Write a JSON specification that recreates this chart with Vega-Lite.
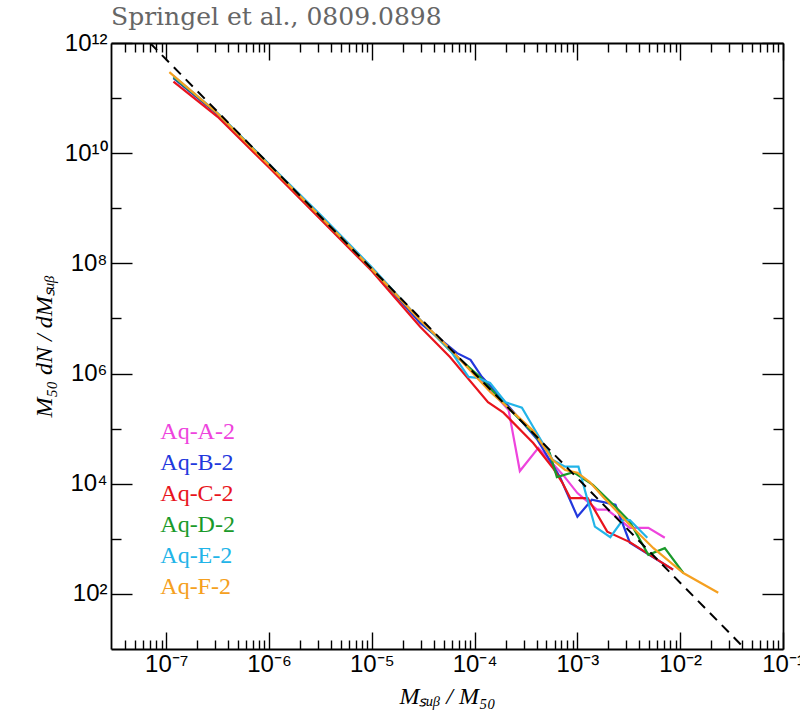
{
  "$schema": "https://vega.github.io/schema/vega-lite/v6.json",
  "width": 672,
  "height": 606,
  "autosize": {"type": "none"},
  "padding": {"left": 111, "top": 43, "right": 17, "bottom": 66},
  "background": "white",
  "title": {"text": "Springel et al., 0809.0898", "anchor": "start", "frame": "group", "font": "DejaVu Serif", "fontSize": 25, "fontWeight": "normal", "color": "#666666", "baseline": "alphabetic", "offset": -19},
  "config": {"view": {"stroke": null}},
  "datasets": {
    "subhalos": [
      {"run": "Aq-A-2", "x": 1.175e-7, "y": 2.344e11}, {"run": "Aq-A-2", "x": 3.162e-7, "y": 5.012e10}, {"run": "Aq-A-2", "x": 1e-6, "y": 6.310e9}, {"run": "Aq-A-2", "x": 3.162e-6, "y": 7.079e8}, {"run": "Aq-A-2", "x": 1e-5, "y": 7.943e7}, {"run": "Aq-A-2", "x": 2.951e-5, "y": 9.333e6}, {"run": "Aq-A-2", "x": 5.754e-5, "y": 2.692e6}, {"run": "Aq-A-2", "x": 1.122e-4, "y": 8.318e5}, {"run": "Aq-A-2", "x": 2.138e-4, "y": 2.188e5}, {"run": "Aq-A-2", "x": 2.754e-4, "y": 1.698e4}, {"run": "Aq-A-2", "x": 4.169e-4, "y": 4.467e4}, {"run": "Aq-A-2", "x": 7.244e-4, "y": 1.445e4}, {"run": "Aq-A-2", "x": 1e-3, "y": 6.761e3}, {"run": "Aq-A-2", "x": 1.549e-3, "y": 3.388e3}, {"run": "Aq-A-2", "x": 1.950e-3, "y": 3.388e3}, {"run": "Aq-A-2", "x": 3.236e-3, "y": 1.585e3}, {"run": "Aq-A-2", "x": 4.898e-3, "y": 1.585e3}, {"run": "Aq-A-2", "x": 7.079e-3, "y": 1.047e3},
      {"run": "Aq-B-2", "x": 1.175e-7, "y": 2.291e11}, {"run": "Aq-B-2", "x": 3.162e-7, "y": 5.129e10}, {"run": "Aq-B-2", "x": 1e-6, "y": 6.310e9}, {"run": "Aq-B-2", "x": 3.162e-6, "y": 7.079e8}, {"run": "Aq-B-2", "x": 1e-5, "y": 7.943e7}, {"run": "Aq-B-2", "x": 2.951e-5, "y": 8.318e6}, {"run": "Aq-B-2", "x": 6.761e-5, "y": 2.344e6}, {"run": "Aq-B-2", "x": 9.120e-5, "y": 1.778e6}, {"run": "Aq-B-2", "x": 1.175e-4, "y": 8.710e5}, {"run": "Aq-B-2", "x": 1.778e-4, "y": 3.802e5}, {"run": "Aq-B-2", "x": 4.074e-4, "y": 6.310e4}, {"run": "Aq-B-2", "x": 6.761e-4, "y": 1.318e4}, {"run": "Aq-B-2", "x": 1e-3, "y": 2.512e3}, {"run": "Aq-B-2", "x": 1.380e-3, "y": 5.129e3}, {"run": "Aq-B-2", "x": 1.738e-3, "y": 4.677e3}, {"run": "Aq-B-2", "x": 2.344e-3, "y": 4.169e3}, {"run": "Aq-B-2", "x": 3.236e-3, "y": 8.511e2}, {"run": "Aq-B-2", "x": 8.511e-3, "y": 2.754e2},
      {"run": "Aq-C-2", "x": 1.175e-7, "y": 1.995e11}, {"run": "Aq-C-2", "x": 3.162e-7, "y": 4.571e10}, {"run": "Aq-C-2", "x": 1e-6, "y": 5.495e9}, {"run": "Aq-C-2", "x": 3.162e-6, "y": 6.310e8}, {"run": "Aq-C-2", "x": 1e-5, "y": 7.244e7}, {"run": "Aq-C-2", "x": 2.951e-5, "y": 7.079e6}, {"run": "Aq-C-2", "x": 5.754e-5, "y": 1.995e6}, {"run": "Aq-C-2", "x": 1.349e-4, "y": 3.020e5}, {"run": "Aq-C-2", "x": 1.905e-4, "y": 1.950e5}, {"run": "Aq-C-2", "x": 3.715e-4, "y": 5.495e4}, {"run": "Aq-C-2", "x": 5.754e-4, "y": 1.950e4}, {"run": "Aq-C-2", "x": 7.079e-4, "y": 1.072e4}, {"run": "Aq-C-2", "x": 8.511e-4, "y": 5.495e3}, {"run": "Aq-C-2", "x": 1.259e-3, "y": 5.495e3}, {"run": "Aq-C-2", "x": 1.950e-3, "y": 1.349e3}, {"run": "Aq-C-2", "x": 3.236e-3, "y": 8.710e2}, {"run": "Aq-C-2", "x": 6.761e-3, "y": 3.631e2}, {"run": "Aq-C-2", "x": 8.511e-3, "y": 2.754e2},
      {"run": "Aq-D-2", "x": 1.175e-7, "y": 2.399e11}, {"run": "Aq-D-2", "x": 3.162e-7, "y": 5.248e10}, {"run": "Aq-D-2", "x": 1e-6, "y": 6.310e9}, {"run": "Aq-D-2", "x": 3.162e-6, "y": 7.079e8}, {"run": "Aq-D-2", "x": 1e-5, "y": 7.943e7}, {"run": "Aq-D-2", "x": 2.951e-5, "y": 9.333e6}, {"run": "Aq-D-2", "x": 5.754e-5, "y": 2.630e6}, {"run": "Aq-D-2", "x": 1.122e-4, "y": 8.710e5}, {"run": "Aq-D-2", "x": 2.089e-4, "y": 2.455e5}, {"run": "Aq-D-2", "x": 3.467e-4, "y": 9.550e4}, {"run": "Aq-D-2", "x": 5.370e-4, "y": 3.631e4}, {"run": "Aq-D-2", "x": 6.310e-4, "y": 1.318e4}, {"run": "Aq-D-2", "x": 9.120e-4, "y": 1.622e4}, {"run": "Aq-D-2", "x": 1.413e-3, "y": 9.550e3}, {"run": "Aq-D-2", "x": 2.239e-3, "y": 4.169e3}, {"run": "Aq-D-2", "x": 3.236e-3, "y": 2.042e3}, {"run": "Aq-D-2", "x": 4.898e-3, "y": 5.129e2}, {"run": "Aq-D-2", "x": 7.079e-3, "y": 6.761e2}, {"run": "Aq-D-2", "x": 1.072e-2, "y": 2.399e2},
      {"run": "Aq-E-2", "x": 1.175e-7, "y": 2.512e11}, {"run": "Aq-E-2", "x": 3.162e-7, "y": 5.370e10}, {"run": "Aq-E-2", "x": 1e-6, "y": 6.310e9}, {"run": "Aq-E-2", "x": 3.162e-6, "y": 7.586e8}, {"run": "Aq-E-2", "x": 1e-5, "y": 8.511e7}, {"run": "Aq-E-2", "x": 2.951e-5, "y": 9.333e6}, {"run": "Aq-E-2", "x": 5.754e-5, "y": 2.692e6}, {"run": "Aq-E-2", "x": 8.710e-5, "y": 8.710e5}, {"run": "Aq-E-2", "x": 1.072e-4, "y": 8.318e5}, {"run": "Aq-E-2", "x": 1.413e-4, "y": 6.761e5}, {"run": "Aq-E-2", "x": 1.995e-4, "y": 3.020e5}, {"run": "Aq-E-2", "x": 2.884e-4, "y": 2.399e5}, {"run": "Aq-E-2", "x": 3.715e-4, "y": 1.072e5}, {"run": "Aq-E-2", "x": 5.754e-4, "y": 2.692e4}, {"run": "Aq-E-2", "x": 7.586e-4, "y": 2.042e4}, {"run": "Aq-E-2", "x": 1.023e-3, "y": 2.042e4}, {"run": "Aq-E-2", "x": 1.479e-3, "y": 1.660e3}, {"run": "Aq-E-2", "x": 2.089e-3, "y": 1.072e3}, {"run": "Aq-E-2", "x": 2.754e-3, "y": 2.188e3}, {"run": "Aq-E-2", "x": 3.236e-3, "y": 2.188e3}, {"run": "Aq-E-2", "x": 4.786e-3, "y": 1.047e3},
      {"run": "Aq-F-2", "x": 1.072e-7, "y": 2.951e11}, {"run": "Aq-F-2", "x": 3.162e-7, "y": 5.248e10}, {"run": "Aq-F-2", "x": 1e-6, "y": 6.026e9}, {"run": "Aq-F-2", "x": 3.162e-6, "y": 7.079e8}, {"run": "Aq-F-2", "x": 1e-5, "y": 7.943e7}, {"run": "Aq-F-2", "x": 2.951e-5, "y": 9.333e6}, {"run": "Aq-F-2", "x": 5.754e-5, "y": 2.818e6}, {"run": "Aq-F-2", "x": 1.413e-4, "y": 4.677e5}, {"run": "Aq-F-2", "x": 2.089e-4, "y": 2.455e5}, {"run": "Aq-F-2", "x": 3.715e-4, "y": 9.120e4}, {"run": "Aq-F-2", "x": 5.754e-4, "y": 2.692e4}, {"run": "Aq-F-2", "x": 7.586e-4, "y": 1.778e4}, {"run": "Aq-F-2", "x": 1e-3, "y": 1.585e4}, {"run": "Aq-F-2", "x": 1.318e-3, "y": 1.072e4}, {"run": "Aq-F-2", "x": 1.778e-3, "y": 5.754e3}, {"run": "Aq-F-2", "x": 3.020e-3, "y": 2.042e3}, {"run": "Aq-F-2", "x": 5.495e-3, "y": 6.761e2}, {"run": "Aq-F-2", "x": 1.072e-2, "y": 2.399e2}, {"run": "Aq-F-2", "x": 2.344e-2, "y": 1.047e2}
    ],
    "powerlaw": [
      {"x": 6.95e-8, "y": 1e12},
      {"x": 0.0429, "y": 10}
    ],
    "labels": [
      {"run": "Aq-A-2", "x": 8.75e-8, "y": 8.71e4},
      {"run": "Aq-B-2", "x": 8.75e-8, "y": 2.39e4},
      {"run": "Aq-C-2", "x": 8.75e-8, "y": 6.53e3},
      {"run": "Aq-D-2", "x": 8.75e-8, "y": 1.79e3},
      {"run": "Aq-E-2", "x": 8.75e-8, "y": 4.90e2},
      {"run": "Aq-F-2", "x": 8.75e-8, "y": 1.34e2}
    ]
  },
  "layer": [
    {
      "data": {"name": "subhalos"},
      "mark": {"type": "line", "strokeWidth": 2.2, "clip": true},
      "encoding": {
        "x": {
          "field": "x", "type": "quantitative",
          "scale": {"type": "log", "domain": [2.9e-8, 0.1], "nice": false},
          "axis": {
            "orient": "bottom",
            "values": [4e-8,5e-8,6e-8,7e-8,8e-8,9e-8,1e-7,2e-7,3e-7,4e-7,5e-7,6e-7,7e-7,8e-7,9e-7,1e-6,2e-6,3e-6,4e-6,5e-6,6e-6,7e-6,8e-6,9e-6,1e-5,2e-5,3e-5,4e-5,5e-5,6e-5,7e-5,8e-5,9e-5,1e-4,2e-4,3e-4,4e-4,5e-4,6e-4,7e-4,8e-4,9e-4,1e-3,2e-3,3e-3,4e-3,5e-3,6e-3,7e-3,8e-3,9e-3,1e-2,2e-2,3e-2,4e-2,5e-2,6e-2,7e-2,8e-2,9e-2,1e-1],
            "tickSize": {"condition": {"test": "abs(log(datum.value)/LN10 - round(log(datum.value)/LN10)) < 0.001", "value": -17}, "value": -9},
            "tickColor": "black", "tickWidth": 1.4,
            "domainColor": "black", "domainWidth": 1.8,
            "labelExpr": "abs(log(datum.value)/LN10 - round(log(datum.value)/LN10)) < 0.001 ? ['10⁻⁷','10⁻⁶','10⁻⁵','10⁻⁴','10⁻³','10⁻²','10⁻¹'][round(log(datum.value)/LN10)+7] : ''",
            "labelFont": "Liberation Sans", "labelFontSize": 24, "labelColor": "black",
            "labelPadding": 20, "labelOverlap": false, "labelFlush": false,
            "grid": false,
            "title": "Mₛᵤᵦ / M₅₀", "titleFont": "Liberation Serif", "titleFontSize": 24, "titleFontStyle": "italic", "titleFontWeight": "normal", "titleColor": "black", "titlePadding": 0
          }
        },
        "y": {
          "field": "y", "type": "quantitative",
          "scale": {"type": "log", "domain": [10, 1e12], "nice": false},
          "axis": {
            "orient": "left",
            "values": [1e2,1e3,1e4,1e5,1e6,1e7,1e8,1e9,1e10,1e11,1e12],
            "tickSize": {"condition": {"test": "round(log(datum.value)/LN10) % 2 == 0", "value": -21}, "value": -10},
            "tickColor": "black", "tickWidth": 1.4,
            "domainColor": "black", "domainWidth": 1.8,
            "labelExpr": "round(log(datum.value)/LN10) % 2 == 0 ? '10' + ['⁰','¹','²','³','⁴','⁵','⁶','⁷','⁸','⁹','¹⁰','¹¹','¹²'][round(log(datum.value)/LN10)] : ''",
            "labelFont": "Liberation Sans", "labelFontSize": 24, "labelColor": "black",
            "labelPadding": 25, "labelOverlap": false, "labelFlush": false,
            "grid": false,
            "title": "M₅₀  dN / dMₛᵤᵦ", "titleFont": "Liberation Serif", "titleFontSize": 24, "titleFontStyle": "italic", "titleFontWeight": "normal", "titleColor": "black", "titlePadding": 8
          }
        },
        "color": {
          "field": "run", "type": "nominal",
          "scale": {"domain": ["Aq-A-2", "Aq-B-2", "Aq-C-2", "Aq-D-2", "Aq-E-2", "Aq-F-2"], "range": ["#ee44dd", "#2238dd", "#e8141c", "#1a9a2a", "#22b4e8", "#f5a020"]},
          "legend": null
        }
      }
    },
    {
      "data": {"name": "powerlaw"},
      "mark": {"type": "line", "color": "black", "strokeWidth": 2, "strokeDash": [10, 7], "clip": true},
      "encoding": {
        "x": {
          "field": "x", "type": "quantitative",
          "scale": {"type": "log", "domain": [2.9e-8, 0.1], "nice": false},
          "axis": {
            "orient": "top",
            "values": [4e-8,5e-8,6e-8,7e-8,8e-8,9e-8,1e-7,2e-7,3e-7,4e-7,5e-7,6e-7,7e-7,8e-7,9e-7,1e-6,2e-6,3e-6,4e-6,5e-6,6e-6,7e-6,8e-6,9e-6,1e-5,2e-5,3e-5,4e-5,5e-5,6e-5,7e-5,8e-5,9e-5,1e-4,2e-4,3e-4,4e-4,5e-4,6e-4,7e-4,8e-4,9e-4,1e-3,2e-3,3e-3,4e-3,5e-3,6e-3,7e-3,8e-3,9e-3,1e-2,2e-2,3e-2,4e-2,5e-2,6e-2,7e-2,8e-2,9e-2,1e-1],
            "tickSize": {"condition": {"test": "abs(log(datum.value)/LN10 - round(log(datum.value)/LN10)) < 0.001", "value": -17}, "value": -9},
            "tickColor": "black", "tickWidth": 1.4,
            "domainColor": "black", "domainWidth": 1.8,
            "labels": false, "grid": false, "title": null
          }
        },
        "y": {
          "field": "y", "type": "quantitative",
          "scale": {"type": "log", "domain": [10, 1e12], "nice": false},
          "axis": {
            "orient": "right",
            "values": [1e2,1e3,1e4,1e5,1e6,1e7,1e8,1e9,1e10,1e11,1e12],
            "tickSize": {"condition": {"test": "round(log(datum.value)/LN10) % 2 == 0", "value": -21}, "value": -10},
            "tickColor": "black", "tickWidth": 1.4,
            "domainColor": "black", "domainWidth": 1.8,
            "labels": false, "grid": false, "title": null
          }
        }
      }
    },
    {
      "data": {"name": "labels"},
      "mark": {"type": "text", "align": "left", "baseline": "middle", "font": "Liberation Serif", "fontSize": 24},
      "encoding": {
        "x": {"field": "x", "type": "quantitative", "axis": null},
        "y": {"field": "y", "type": "quantitative", "axis": null},
        "text": {"field": "run"},
        "color": {"field": "run", "type": "nominal", "legend": null}
      }
    }
  ],
  "resolve": {"axis": {"x": "independent", "y": "independent"}}
}
